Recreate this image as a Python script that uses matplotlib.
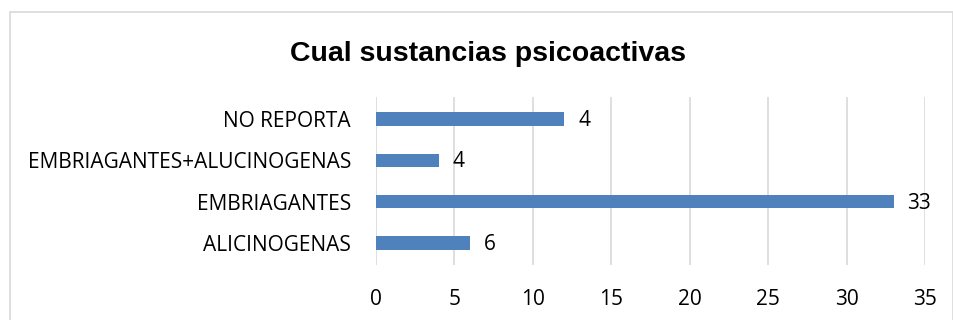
import matplotlib
matplotlib.use("Agg")
import matplotlib.pyplot as plt
from matplotlib.patches import Rectangle

categories = ["ALICINOGENAS", "EMBRIAGANTES", "EMBRIAGANTES+ALUCINOGENAS", "NO REPORTA"]
values = [6, 33, 4, 12]
labels = ["6", "33", "4", "4"]
xticks = [0, 5, 10, 15, 20, 25, 30, 35]

FONT = ["Open Sans", "DejaVu Sans"]
FS = 15

fig = plt.figure(figsize=(9.54, 3.2), dpi=100)
fig.patches.append(Rectangle((10/954, -0.05), 943/954, 1 - 12/320 + 0.05,
                             transform=fig.transFigure, fill=False,
                             edgecolor="#d9d9d9", linewidth=1.2))

ax = fig.add_axes([376/954, 1 - 265/320, (925 - 376)/954, (265 - 97)/320])
ypos = range(len(categories))
ax.barh(ypos, values, height=0.32, color="#4f81bd", zorder=3)
ax.set_xlim(0, 35)
ax.set_ylim(-0.53, 3.53)
ax.set_xticks(xticks)
ax.set_yticks(list(ypos))
ax.set_yticklabels(categories, fontsize=FS, family=FONT)
ax.set_xticklabels([str(t) for t in xticks], fontsize=FS, family=FONT)
ax.tick_params(axis="both", length=0, colors="#000000")
ax.tick_params(axis="x", pad=17)
ax.tick_params(axis="y", pad=18)
ax.grid(axis="x", color="#d9d9d9", linewidth=1.2, zorder=0)
for s in ax.spines.values():
    s.set_visible(False)

for y, v, lab in zip(ypos, values, labels):
    ax.annotate(lab, (v, y), xytext=(10, -1), textcoords="offset points",
                va="center", ha="left", fontsize=FS, family=FONT)

fig.text(488/954, 1 - 54/320, "Cual sustancias psicoactivas", ha="center", va="center",
         fontsize=20.5, fontweight="bold", family=["Liberation Sans", "DejaVu Sans"])

fig.savefig("out.png", dpi=100)
